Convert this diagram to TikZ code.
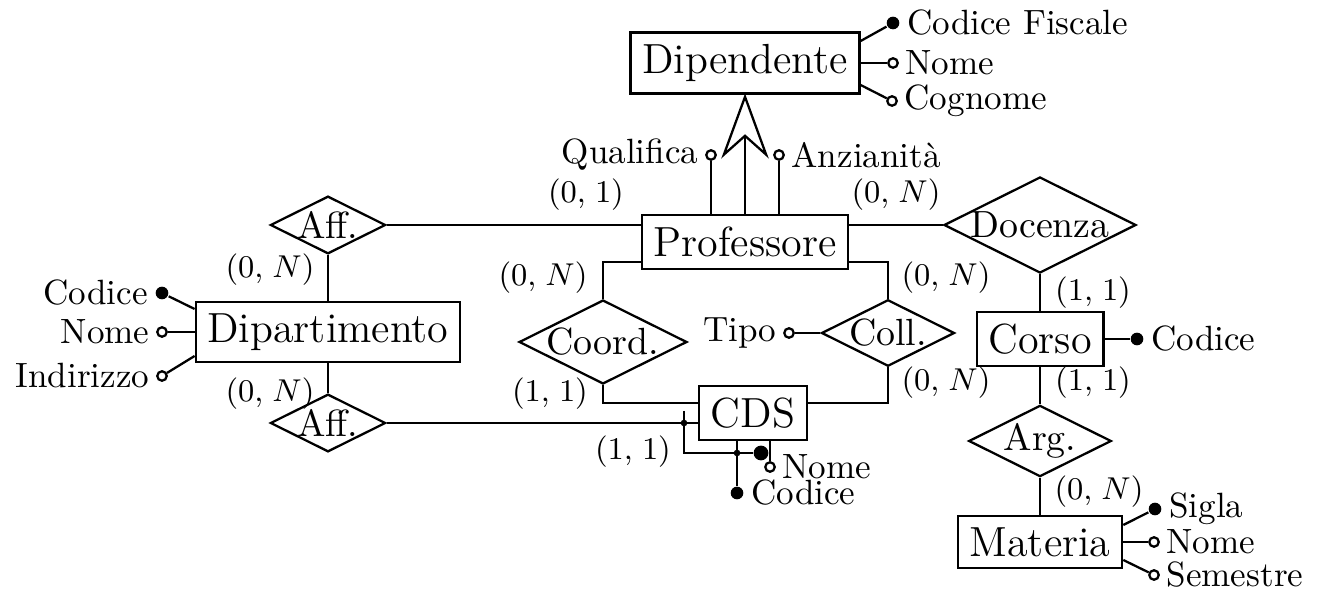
\documentclass[tikz,border=0pt]{standalone}
\usetikzlibrary{shapes.geometric,arrows.meta,calc}
\begin{document}
\begin{tikzpicture}[x=0.285pt,y=-0.285pt,line width=0.65pt,
  entity/.style={draw, rectangle, font=\large, inner sep=3.333pt},
  rel/.style={draw, diamond, aspect=2, inner sep=0pt, font=\fontsize{10.8}{13}\selectfont},
  keyattr/.style={circle, fill=black, inner sep=0pt, minimum size=3.6pt},
  attr/.style={circle, draw, fill=white, inner sep=0pt, minimum size=2.7pt},
  junct/.style={circle, fill=black, inner sep=0pt, minimum size=1.9pt},
  idend/.style={circle, fill=black, inner sep=0pt, minimum size=4.2pt},
  card/.style={font=\small, inner sep=0pt},
  every label/.style={font=\normalsize, inner sep=1.6pt},
  label distance=0pt]
\useasboundingbox (0,0) rectangle (1321,600);

% entities
\node[entity] (Dip) at (745,63) {Dipendente};
\node[entity] (Prof) at (745,242) {Professore};
\node[entity] (Dpt) at (328,332) {Dipartimento};
\node[entity] (CDS) at (753,413) {CDS};
\node[entity] (Corso) at (1040,339) {Corso};
\node[entity] (Mat) at (1040,542) {Materia};

% relationships
\node[rel] (AffA) at (328,225) {Aff.};
\node[rel] (AffB) at (328,423) {Aff.};
\node[rel] (Doc) at (1040,225) {Docenza};
\node[rel] (Coord) at (603,342) {Coord.};
\node[rel] (Coll) at (888,333) {Coll.};
\node[rel] (Arg) at (1040,441) {Arg.};

% generalization
\draw[-{Stealth[open, length=18.5pt, width=13.5pt, inset=6pt]}, shorten >=-0.3pt] (Prof.north) -- (Dip.south);

% Dipendente attributes
\node[keyattr, label=right:Codice Fiscale] (dCF) at (893,23) {};
\node[attr, label=right:Nome] (dNome) at (893,63) {};
\node[attr, label=right:Cognome] (dCogn) at (892,101) {};
\draw ($(Dip.east)+(0,-22)$) -- (dCF);
\draw (Dip.east) -- (dNome);
\draw ($(Dip.east)+(0,22)$) -- (dCogn);

% Professore attributes
\node[attr, label=left:Qualifica] (pQual) at (711,155) {};
\node[attr, label=right:Anzianit\`a] (pAnz) at (779,155) {};
\draw (Prof.north -| pQual) -- (pQual);
\draw (Prof.north -| pAnz) -- (pAnz);

% Dipartimento attributes
\node[keyattr, label=left:Codice] (dpCod) at (162,293) {};
\node[attr, label=left:Nome] (dpNome) at (162,332) {};
\node[attr, label=left:Indirizzo] (dpInd) at (162,376) {};
\draw ($(Dpt.west)+(0,-23)$) -- (dpCod);
\draw (Dpt.west) -- (dpNome);
\draw ($(Dpt.west)+(0,24)$) -- (dpInd);

% relationship links
\draw (AffA.east) -- (AffA.east -| Prof.west);
\draw (AffA.south) -- (Dpt.north);
\draw (Dpt.south) -- (AffB.north);
\draw (AffB.east) -- (AffB.east -| CDS.west);
\draw (Doc.west) -- (Doc.west -| Prof.east);
\draw (Doc.south) -- (Corso.north);
\draw ($(Prof.south west)+(0,-8)$) -| (Coord.north);
\draw (Coord.south) |- ($(CDS.west)+(0,-10)$);
\draw ($(Prof.south east)+(0,-8)$) -| (Coll.north);
\draw (Coll.south) |- ($(CDS.east)+(0,-10)$);
\draw (Corso.south) -- (Arg.north);
\draw (Arg.south) -- (Mat.north);

% Coll attribute
\node[attr, label=left:Tipo] (cTipo) at (789,333) {};
\draw (Coll.west) -- (cTipo);

% Corso attribute
\node[keyattr, label=right:Codice] (coCod) at (1137,339) {};
\draw (Corso.east) -- (coCod);

% Materia attributes
\node[keyattr, label=right:Sigla] (mSig) at (1155,509) {};
\node[attr, label=right:Nome] (mNome) at (1154,542) {};
\node[attr, label=right:Semestre] (mSem) at (1154,575) {};
\draw ($(Mat.east)+(0,-17)$) -- (mSig);
\draw (Mat.east) -- (mNome);
\draw ($(Mat.east)+(0,18)$) -- (mSem);

% CDS attributes and external identifier
\node[keyattr, label=right:Codice] (cdsCod) at (737,493) {};
\node[attr, label=right:Nome] (cdsNome) at (770,467) {};
\draw (CDS.south -| cdsCod) -- (cdsCod);
\draw (CDS.south -| cdsNome) -- (cdsNome);
\coordinate (idTop) at (684,411);
\coordinate (idCorner) at (684,453);
\node[idend] (idEnd) at (761,453) {};
\node[junct] (jA) at (684,423) {};
\node[junct] (jB) at (737,453) {};
\draw (idTop) -- (idCorner) -- (idEnd);

% cardinalities
\node[card] (c1) at (586,195) {$(0,\mkern2mu 1)$};
\node[card] (c2) at (896,195) {$(0,\mkern2mu N)$};
\node[card] (c3) at (270,270) {$(0,\mkern2mu N)$};
\node[card] (c4) at (270,394) {$(0,\mkern2mu N)$};
\node[card] (c5) at (543,278) {$(0,\mkern2mu N)$};
\node[card] (c6) at (550,394) {$(1,\mkern2mu 1)$};
\node[card] (c7) at (946,278) {$(0,\mkern2mu N)$};
\node[card] (c8) at (946,383) {$(0,\mkern2mu N)$};
\node[card] (c9) at (633,452) {$(1,\mkern2mu 1)$};
\node[card] (c10) at (1093,293) {$(1,\mkern2mu 1)$};
\node[card] (c11) at (1093,383) {$(1,\mkern2mu 1)$};
\node[card] (c12) at (1099,492) {$(0,\mkern2mu N)$};
\end{tikzpicture}
\end{document}
